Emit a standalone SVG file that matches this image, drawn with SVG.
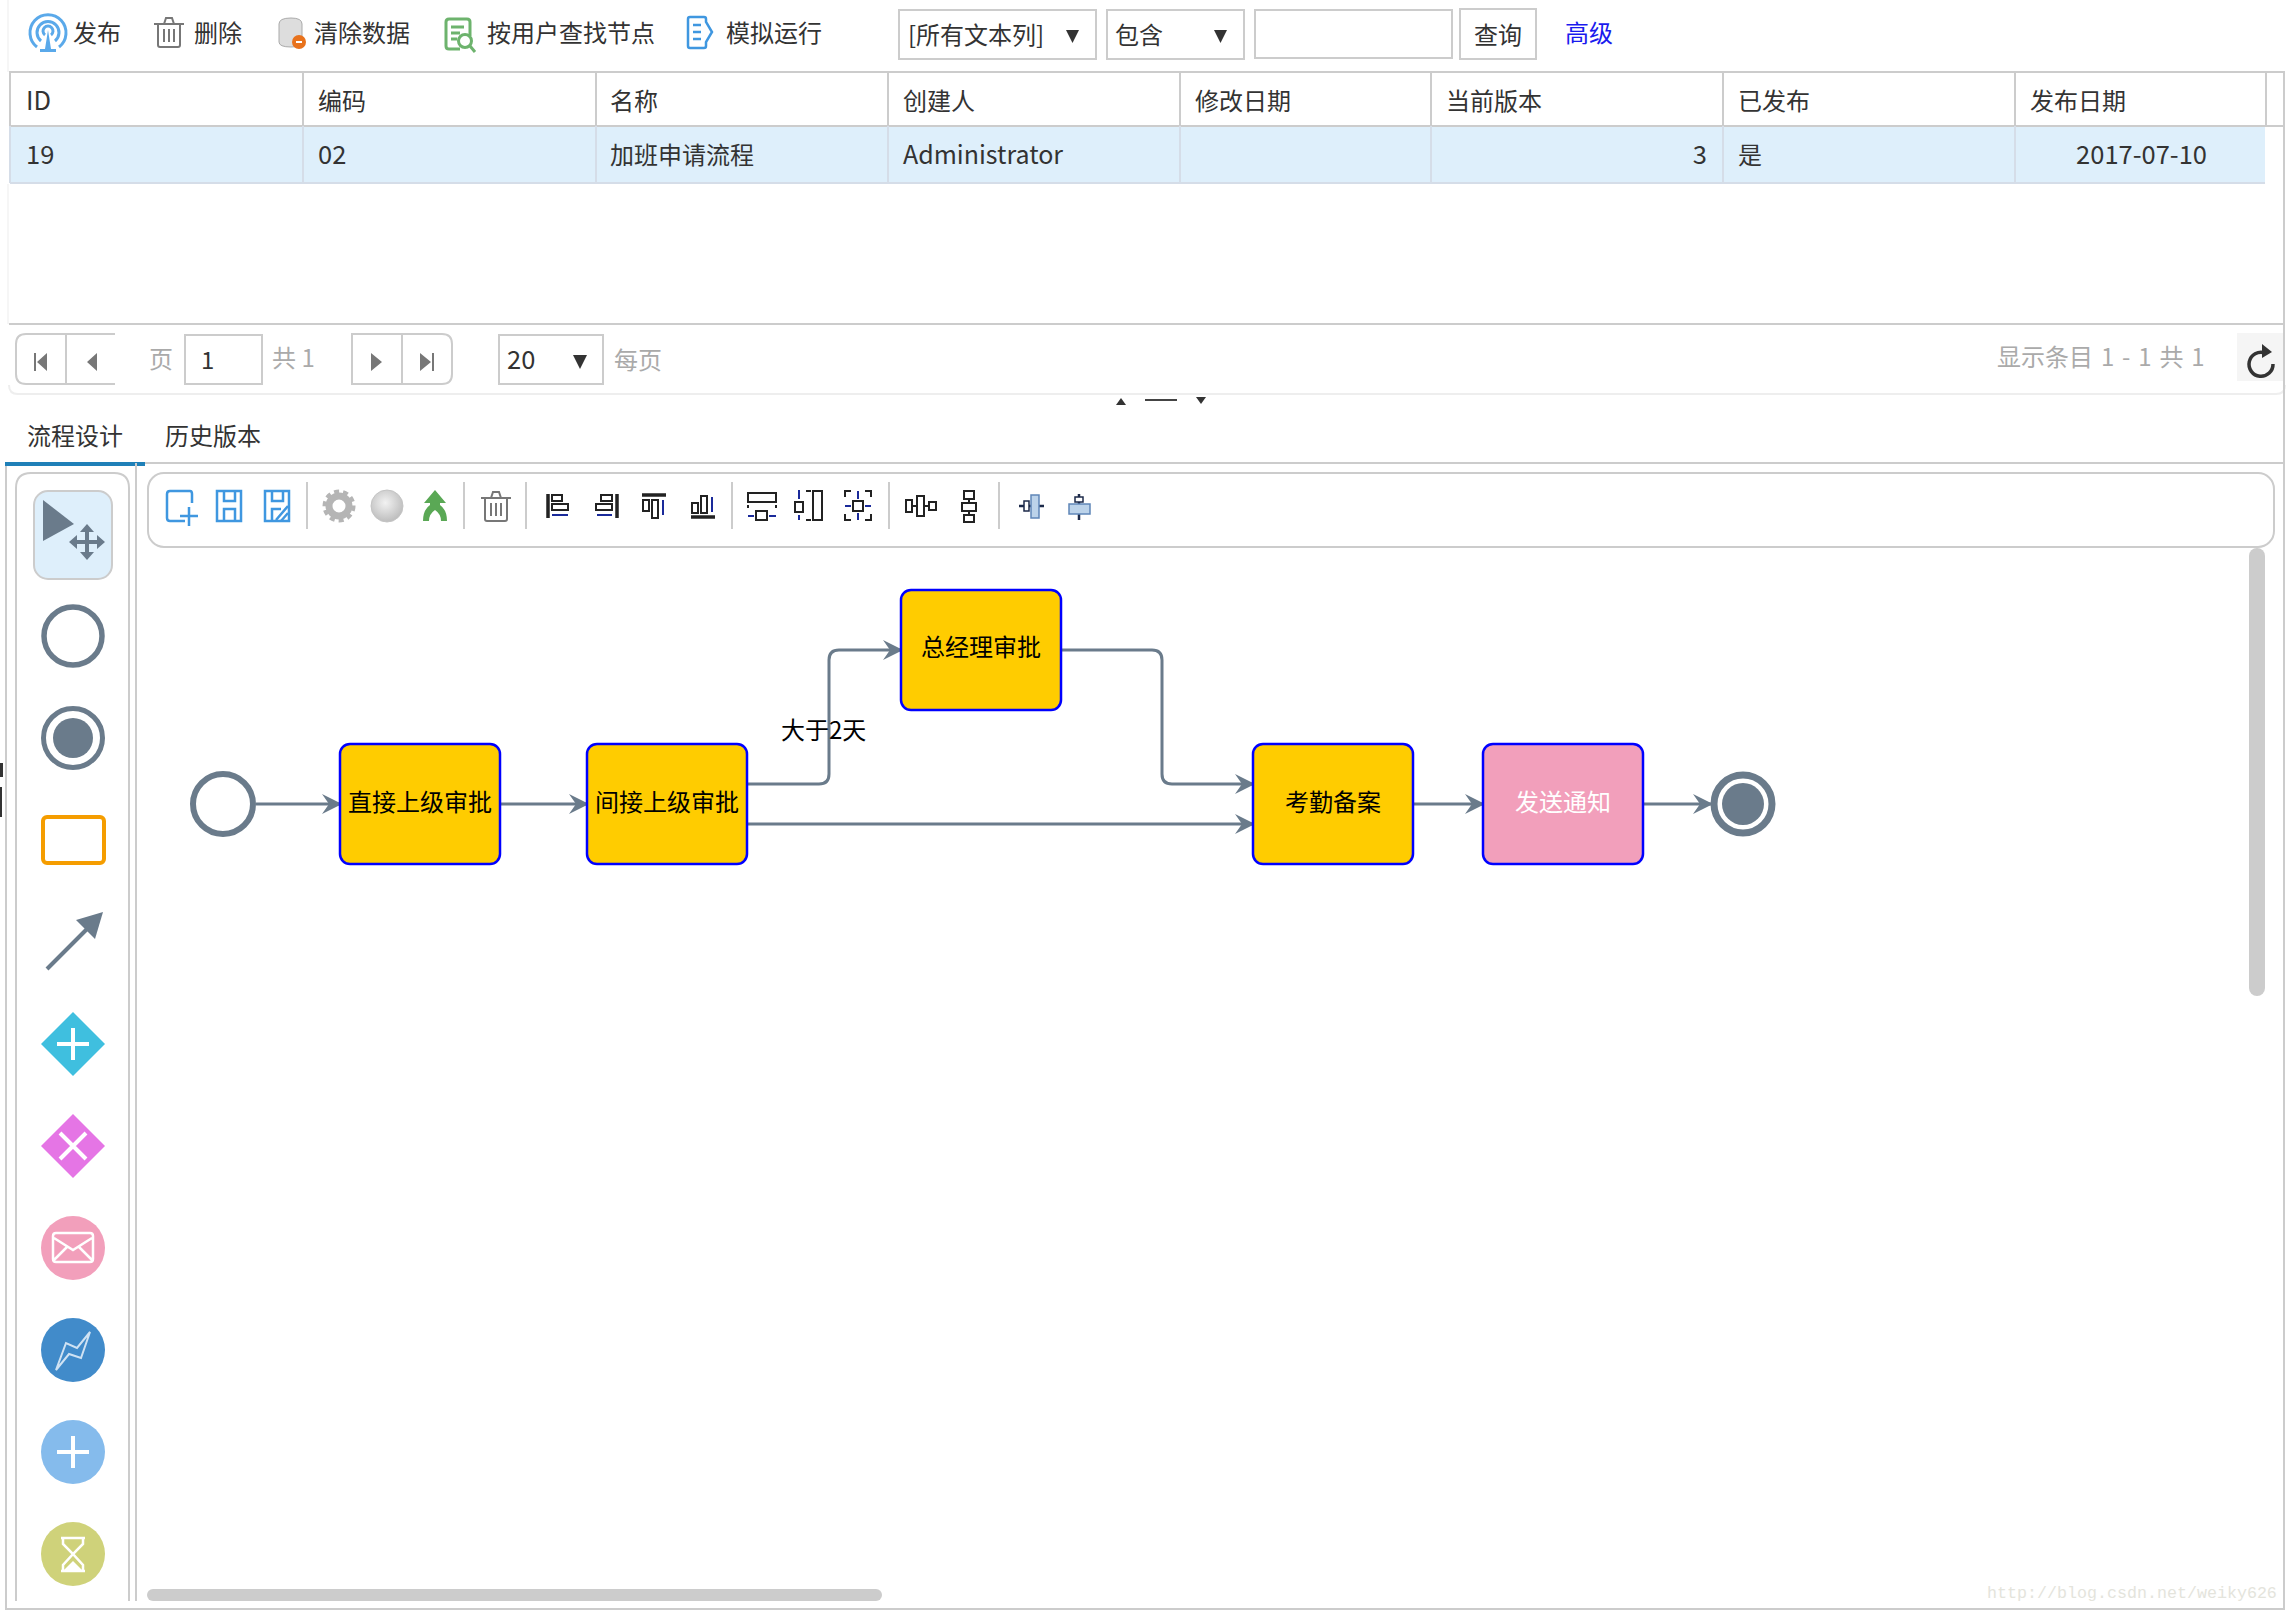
<svg xmlns="http://www.w3.org/2000/svg" width="2289" height="1612" viewBox="0 0 2289 1612">
<style>
text{font-family:"Noto Sans CJK SC","Liberation Sans",sans-serif;font-size:24px;fill:#333}
.lat{font-size:25.500px}
.g{fill:#aaa}
.n{fill:#000}
.w{fill:#fff}
.b{fill:none;stroke:#ccc;stroke-width:2}
.l{stroke:#ccc;stroke-width:2;fill:none}
.rl{stroke:#d5dde8;stroke-width:2}
.node{fill:#fc0;stroke:#00f;stroke-width:2.5}
.conn{fill:none;stroke:#6a7b8b;stroke-width:3;marker-end:url(#ah)}
.ev{fill:#fff;stroke:#6a7b8b}
.pi{fill:#777}
.bi{fill:none;stroke:#3f97e0;stroke-width:2.5}
.ai{fill:none;stroke:#222;stroke-width:2}
.ab{fill:none;stroke:#1a2a9a;stroke-width:2}
.tr{fill:none;stroke:#777;stroke-width:2}
.ws{fill:none;stroke:#fff;stroke-width:4}
.wt{fill:none;stroke:#fff;stroke-width:2.5}
</style>
<defs>
<marker id="ah" markerUnits="userSpaceOnUse" markerWidth="20" markerHeight="20" refX="18" refY="10" orient="auto"><path d="M0 0L20 10L0 20L7 10Z" fill="#6a7b8b"/></marker>
<radialGradient id="ball" cx="45%" cy="40%" r="60%"><stop offset="0" stop-color="#f2f2f2"/><stop offset="1" stop-color="#bdbdbd"/></radialGradient>
<g id="trash"><path class="tr" d="M-11 -8V12Q-11 14 -9 14H9Q11 14 11 12V-8M-15 -9H15M-5 -9L-3 -15H3L5 -9M-5 -4V9M0 -4V9M5 -4V9"/></g>
</defs>
<rect width="2289" height="1612" fill="#fff"/>
<g id="crop-marks"><path d="M8 0V72M8 184V324" stroke="#f3f3f3" stroke-width="1.500" fill="none"/><path d="M0 763H3V777H0ZM0 787H2V817H0Z" fill="#333"/></g>

<g id="top-toolbar">
<path d="M37 47A18 18 0 1 1 59 47M41 41A11 11 0 1 1 55 41M45 35A5 5 0 1 1 51 35" fill="none" stroke="#5aa9ea" stroke-width="3"/>
<path d="M48 30L45 49H40V52H56V49H51Z" fill="#5aa9ea"/>
<text x="73" y="42">发布</text>
<use href="#trash" x="169" y="33"/>
<text x="194" y="42">删除</text>
<path d="M279 24Q279 18 291 18Q302 18 302 24V42Q302 47 291 47Q279 47 279 42Z" fill="#ddd" stroke="#aaa"/>
<circle cx="299" cy="42" r="7" fill="#e8721c"/><path d="M296 42H302" stroke="#fff" stroke-width="2"/>
<text x="314" y="42">清除数据</text>
<path d="M470 36V22Q470 19 467 19H449Q446 19 446 22V46Q446 49 449 49H460M451 27H464M451 33H460M451 39H457" fill="none" stroke="#6db36d" stroke-width="3"/>
<circle cx="465" cy="41" r="6.500" fill="none" stroke="#6db36d" stroke-width="3"/><path d="M470 46L475 52" stroke="#6db36d" stroke-width="3"/>
<text x="487" y="42">按用户查找节点</text>
<path d="M706 22V19Q706 17 704 17H690Q688 17 688 19V46Q688 48 690 48H704Q706 48 706 46V42L712 32L706 22Z" fill="none" stroke="#3f97e0" stroke-width="2.500"/>
<path d="M693 25H701M693 32H701M693 39H701" stroke="#3f97e0" stroke-width="2.500"/>
<text x="726" y="42">模拟运行</text>
<rect class="b" x="899" y="10" width="197" height="49"/>
<text x="908" y="44">[所有文本列]</text>
<path d="M1066 30H1079L1072.500 43Z" fill="#333"/>
<rect class="b" x="1107" y="10" width="137" height="49"/>
<text x="1115" y="44">包含</text>
<path d="M1214 30H1227L1220.500 43Z" fill="#333"/>
<rect class="b" x="1255" y="10" width="197" height="48"/>
<rect class="b" x="1460" y="9" width="76" height="50"/>
<text x="1474" y="44">查询</text>
<text x="1565" y="42" style="fill:#1a1aee">高级</text>
</g>

<g id="table">
<rect x="10" y="126" width="2255" height="57" fill="#deeffb"/>
<path class="l" d="M9 72H2285M9 126H2285M303 72V126M596 72V126M888 72V126M1180 72V126M1431 72V126M1723 72V126M2015 72V126M2266 72V126M10 72V126"/>
<path class="rl" d="M303 126V183M596 126V183M888 126V183M1180 126V183M1431 126V183M1723 126V183M2015 126V183M10 126V183M10 183H2265"/>
<text class="lat" x="26" y="110">ID</text><text x="318" y="110">编码</text><text x="610" y="110">名称</text><text x="903" y="110">创建人</text><text x="1195" y="110">修改日期</text><text x="1446" y="110">当前版本</text><text x="1738" y="110">已发布</text><text x="2030" y="110">发布日期</text>
<text class="lat" x="26" y="164">19</text><text class="lat" x="318" y="164">02</text><text x="610" y="164">加班申请流程</text><text class="lat" x="903" y="164" style="font-size:25px">Administrator</text><text class="lat" x="1707" y="164" text-anchor="end">3</text><text x="1738" y="164">是</text><text class="lat" x="2207" y="164" text-anchor="end">2017-07-10</text>
</g>

<g id="pager">
<path class="l" d="M9 324H2285"/>
<path d="M9 385Q9 394 18 394H2276Q2285 394 2285 385" fill="none" stroke="#eee" stroke-width="2"/>
<path class="b" d="M115 334H26Q16 334 16 344V374Q16 384 26 384H115M66 334V384"/>
<path class="pi" d="M34 353H36V371H34ZM47 353V371L37 362ZM97 353V371L87 362Z"/>
<text class="g" x="149" y="368">页</text>
<rect class="b" x="185" y="335" width="77" height="49"/>
<text x="201" y="369">1</text>
<text class="g" x="272" y="367">共 1</text>
<path class="b" d="M352 334H442Q452 334 452 344V374Q452 384 442 384H352ZM402 334V384"/>
<path class="pi" d="M371 353L382 362L371 371ZM420 353L431 362L420 371ZM432 353H434V371H432Z"/>
<rect class="b" x="499" y="335" width="104" height="49"/>
<text class="lat" x="507" y="369">20</text>
<path d="M573 355H587L580 369Z" fill="#333"/>
<text class="g" x="614" y="369">每页</text>
<text class="g" x="1997" y="366" style="word-spacing:2.500px">显示条目 1 - 1 共 1</text>
<rect x="2237" y="333" width="47" height="48" fill="#f5f5f5"/>
<path d="M2265 353A12 12 0 1 0 2273 364" fill="none" stroke="#333" stroke-width="3.500"/>
<path d="M2262 344L2272 352L2262 358Z" fill="#333"/>
</g>

<g id="splitter">
<path d="M1121 398L1126 405H1116Z" fill="#333"/>
<path d="M1145 400H1177" stroke="#444" stroke-width="2"/>
<path d="M1196 397H1206L1201 404Z" fill="#333"/>
</g>

<g id="tabs">
<text x="27" y="445">流程设计</text>
<text x="165" y="445">历史版本</text>
<path class="l" d="M145 463H2285M2284 72V1609H6V463"/>
<rect x="5" y="462" width="140" height="4" fill="#1f80b8"/>
</g>

<g id="palette">
<path class="l" d="M16 1601V488Q16 473 31 473H114Q129 473 129 488V1601M136 463V1601"/>
<rect x="34" y="491" width="78" height="88" rx="14" fill="#deeffb" stroke="#ccc" stroke-width="2"/>
<path d="M43 500L74 524L43 541Z" fill="#6a7b8b"/>
<path d="M87 528V556M73 542H101" stroke="#6a7b8b" stroke-width="4" fill="none"/>
<path d="M87 524L94 532H80ZM87 560L94 552H80ZM69 542L77 535V549ZM105 542L97 535V549Z" fill="#6a7b8b"/>
<circle cx="73" cy="636" r="29" fill="#fff" stroke="#6a7b8b" stroke-width="5.500"/>
<circle cx="73" cy="738" r="29.500" fill="#fff" stroke="#6a7b8b" stroke-width="5"/><circle cx="73" cy="738" r="20" fill="#6a7b8b"/>
<rect x="43" y="817" width="61" height="46" rx="4" fill="#fff" stroke="#f59d00" stroke-width="4"/>
<path d="M47 969L90 926" stroke="#6a7b8b" stroke-width="4" fill="none"/><path d="M103 912L76 920L95 939Z" fill="#6a7b8b"/>
<path d="M73 1012L105 1044L73 1076L41 1044Z" fill="#3fbfdf"/><path class="ws" d="M57 1044H89M73 1028V1060"/>
<path d="M73 1114L105 1146L73 1178L41 1146Z" fill="#e575e5"/><path class="ws" d="M60 1133L86 1159M86 1133L60 1159"/>
<circle cx="73" cy="1248" r="32" fill="#f29fbb"/><path class="wt" d="M56 1233H90Q93 1233 93 1236V1259Q93 1262 90 1262H56Q53 1262 53 1259V1236Q53 1233 56 1233ZM54 1238L73 1250L92 1238M54 1260L67 1247M92 1260L79 1247"/>
<circle cx="73" cy="1350" r="32" fill="#418bca"/><path d="M56 1370L66 1343L77 1348L90 1332L81 1358L69 1354Z" fill="none" stroke="#cfe2f3" stroke-width="2"/>
<circle cx="73" cy="1452" r="32" fill="#85bbec"/><path class="ws" d="M57 1452H89M73 1436V1468"/>
<circle cx="73" cy="1554" r="32" fill="#cfd27a"/><path class="wt" d="M61 1538H85M61 1571H85M63 1538V1544L73 1554L63 1565V1571M83 1538V1544L73 1554L83 1565V1571"/><path d="M63 1571L73 1561L83 1571Z" fill="#fff"/>
</g>

<g id="design-toolbar">
<rect class="b" x="148" y="473" width="2126" height="74" rx="16"/>
<path class="bi" d="M185 521H170Q167 521 167 518V494Q167 491 170 491H190Q192 491 192 494V503M189 507V526M180 516H198"/>
<path class="bi" d="M217 491H241V521H217ZM224 491V501H235V491M224 521V509H235V521"/>
<path class="bi" d="M265 491H289V521H265ZM272 491V501H283V491M272 521V509H281"/><path d="M276 520L288 506M281 521L288 513" stroke="#3f97e0" stroke-width="2.500"/>
<path class="l" d="M307 482V529M464 482V529M526 482V529M732 482V529M889 482V529M999 482V529"/>
<circle cx="339" cy="506" r="10" fill="none" stroke="#b5b5b5" stroke-width="7"/><circle cx="339" cy="506" r="14.500" fill="none" stroke="#b5b5b5" stroke-width="4" stroke-dasharray="5 4"/>
<circle cx="387" cy="506" r="16" fill="url(#ball)" stroke="#c4c4c4"/>
<path d="M435 490L446 503H440V505Q447 510 447 521H441Q441 514 435 510Q429 514 429 521H423Q423 510 430 505V503H424Z" fill="#5aa855"/>
<use href="#trash" x="496" y="507"/>
<g id="align-icons">
<path d="M548 494V518" stroke="#222" stroke-width="3.500"/><path class="ai" d="M552 495H562V501H552ZM552 504H568V510H552Z"/><path class="ab" d="M552 515H568"/>
<path d="M617 494V518" stroke="#222" stroke-width="3.500"/><path class="ai" d="M601 495H612V501H601ZM596 504H612V510H596Z"/><path class="ab" d="M597 515H612"/>
<path d="M642 495H666" stroke="#222" stroke-width="3.500"/><path class="ai" d="M643 500H649V511H643ZM652 500H658V518H652Z"/><path class="ab" d="M663 500V515"/>
<path d="M691 517H715" stroke="#222" stroke-width="3.500"/><path class="ai" d="M692 503H698V513H692ZM701 496H707V513H701Z"/><path class="ab" d="M712 497V512"/>
<path class="ai" d="M748 493H776V502H748ZM756 511H767V520H756ZM748 505V508M776 505V508"/><path class="ab" d="M748 516H754M769 516H776"/>
<path class="ai" d="M795 502H803V512H795ZM813 491H822V520H813ZM806 491H811M806 520H811"/><path class="ab" d="M799 490V499M799 515V520"/>
<path class="ai" d="M853 501H863V511H853ZM851 491H845V497M865 491H871V497M851 520H845V514M865 520H871V514"/><path class="ab" d="M858 491V499M858 513V520M845 506H851M865 506H871"/>
<path class="ai" d="M906 500H912V512H906ZM917 496H924V516H917ZM929 502H936V510H929ZM912 506H917M924 506H929"/>
<path class="ai" d="M964 491H974V499H964ZM962 503H976V511H962ZM964 515H974V522H964ZM969 499V503M969 511V515"/>
<path d="M1019 506H1044M1079 494V520" stroke="#1c2a4a" stroke-width="2.500"/><rect x="1024" y="501" width="5" height="10" fill="#fff" stroke="#1c2a4a" stroke-width="1.500"/><rect x="1031" y="495" width="8" height="23" fill="#bcd3ea" stroke="#5f86b8" stroke-width="1.500"/>
<rect x="1069" y="504" width="21" height="10" fill="#bcd3ea" stroke="#5f86b8" stroke-width="1.500"/><rect x="1075" y="497" width="8" height="5" fill="#fff" stroke="#1c2a4a" stroke-width="1.500"/>
</g>
</g>

<g id="scrollbars">
<rect x="2249" y="548" width="16" height="448" rx="8" fill="#ccc"/>
<rect x="147" y="1589" width="735" height="12" rx="6" fill="#ccc"/>
</g>

<g id="connectors">
<path class="conn" d="M256 804H340"/>
<path class="conn" d="M500 804H587"/>
<path class="conn" d="M747 784H819Q829 784 829 774V660Q829 650 839 650H901"/>
<path class="conn" d="M747 824H1253"/>
<path class="conn" d="M1061 650H1152Q1162 650 1162 660V774Q1162 784 1172 784H1253"/>
<path class="conn" d="M1413 804H1483"/>
<path class="conn" d="M1643 804H1711"/>
</g>

<g id="start"><ellipse class="ev" cx="223" cy="804" rx="30" ry="30" stroke-width="6"/></g>
<g id="n1"><rect class="node" x="340" y="744" width="160" height="120" rx="10"/><text class="n" x="420" y="811" text-anchor="middle">直接上级审批</text></g>
<g id="n2"><rect class="node" x="587" y="744" width="160" height="120" rx="10"/><text class="n" x="667" y="811" text-anchor="middle">间接上级审批</text></g>
<g id="n3"><rect class="node" x="901" y="590" width="160" height="120" rx="10"/><text class="n" x="981" y="656" text-anchor="middle">总经理审批</text></g>
<g id="n4"><rect class="node" x="1253" y="744" width="160" height="120" rx="10"/><text class="n" x="1333" y="811" text-anchor="middle">考勤备案</text></g>
<g id="n5"><rect class="node" style="fill:#f29fbb" x="1483" y="744" width="160" height="120" rx="10"/><text class="w" x="1563" y="811" text-anchor="middle">发送通知</text></g>
<g id="end"><circle class="ev" cx="1743" cy="804" r="29" stroke-width="7"/><circle cx="1743" cy="804" r="21" fill="#6a7b8b"/></g>
<text class="n" x="781" y="739">大于2天</text>

<text x="1987" y="1598" style="font-family:'Liberation Mono',monospace;font-size:16.670px;fill:#e4e4dc">http://blog.csdn.net/weiky626</text>
</svg>
